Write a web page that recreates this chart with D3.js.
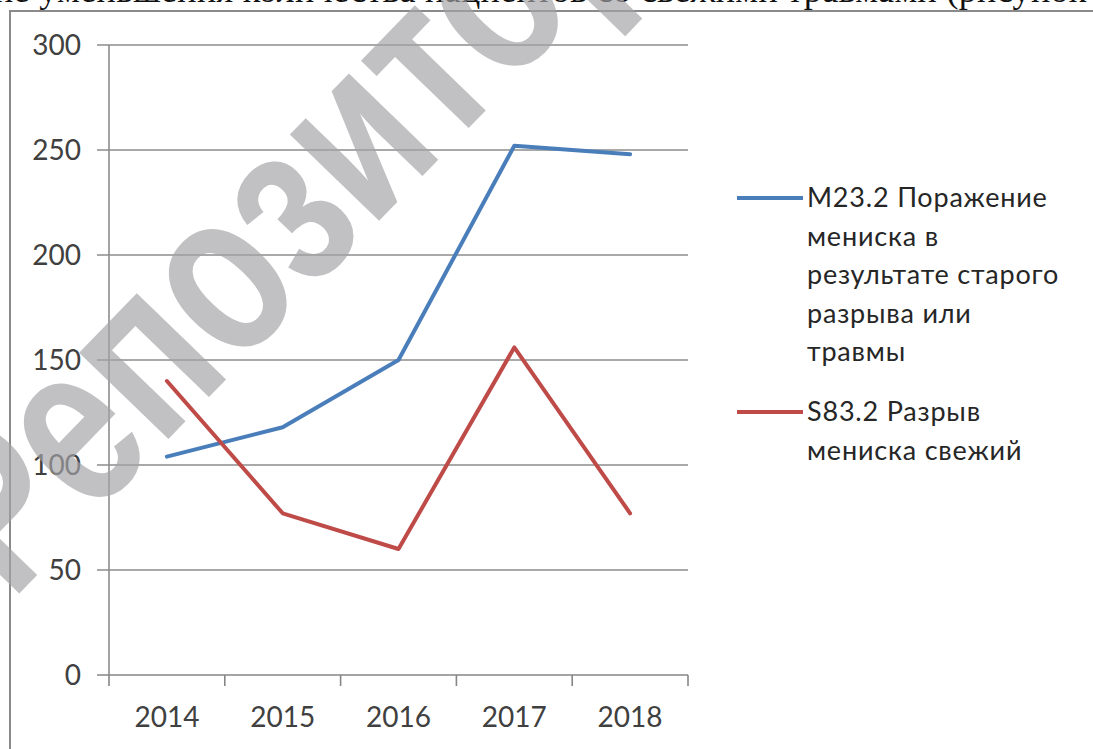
<!DOCTYPE html>
<html>
<head>
<meta charset="utf-8">
<script src="https://cdn.jsdelivr.net/npm/d3@7"></script>
<style>
  html, body { margin: 0; padding: 0; background: #fff; }
  svg { display: block; }
  .tick-label { font-family: Lato, "Open Sans", sans-serif; fill: #404040; }
  .legend-text { font-family: Lato, "Open Sans", sans-serif; fill: #262626; letter-spacing: 0.8px; }
</style>
</head>
<body>
<div id="chart"></div>
<script>
// Meniscus injuries by year, two ICD codes.
const years = ["2014", "2015", "2016", "2017", "2018"];
const m232 = [104, 118, 150, 252, 248];
const s832 = [140, 77, 60, 156, 77];
const yTicks = [0, 50, 100, 150, 200, 250, 300];
const seriesNames = ["M23.2", "S83.2"];
const legendLines = [
  ["M23.2 Поражение", "мениска в", "результате старого", "разрыва или", "травмы"],
  ["S83.2 Разрыв", "мениска свежий"]
];
const colors = ["#4a7ebb", "#be4b48"];

const W = 1093, H = 749;
const svg = d3.select("#chart").append("svg").attr("width", W).attr("height", H);

// cut-off line of the page text above the figure
svg.append("text")
  .attr("x", -6).attr("y", 2)
  .attr("font-family", "Liberation Serif, serif")
  .attr("font-size", 36).attr("fill", "#111")
  .attr("textLength", 1120)
  .text("ие уменьшения количества пациентов со свежими травмами (рисунок 4");

// chart frame
svg.append("rect")
  .attr("x", 10).attr("y", 11).attr("width", W + 20).attr("height", H + 20)
  .attr("fill", "#fff").attr("stroke", "#8a8a8a").attr("stroke-width", 2);

const x = d3.scaleBand().domain(years).range([109, 688]).padding(0);
const y = d3.scaleLinear().domain([0, 300]).range([675, 45]);

// gridlines + y ticks
svg.append("g").selectAll("line").data(yTicks).join("line")
  .attr("x1", 97).attr("x2", 688)
  .attr("y1", d => y(d)).attr("y2", d => y(d))
  .attr("stroke", d => d === 0 ? "#868686" : "#8c8c8c")
  .attr("stroke-width", 1.6);

svg.append("g").selectAll("text").data(yTicks).join("text")
  .attr("class", "tick-label")
  .attr("x", 81).attr("y", d => y(d) + 10)
  .attr("text-anchor", "end").attr("font-size", 28)
  .text(d => d);

// y axis line
svg.append("line")
  .attr("x1", 109).attr("x2", 109).attr("y1", y(300)).attr("y2", y(0))
  .attr("stroke", "#8c8c8c").attr("stroke-width", 1.6);

// x axis ticks at category boundaries
const bounds = years.map(d => x(d)).concat([x(years[years.length - 1]) + x.bandwidth()]);
svg.append("g").selectAll("line").data(bounds).join("line")
  .attr("x1", d => d).attr("x2", d => d)
  .attr("y1", y(0)).attr("y2", y(0) + 11)
  .attr("stroke", "#868686").attr("stroke-width", 1.6);

svg.append("g").selectAll("text").data(years).join("text")
  .attr("class", "tick-label")
  .attr("x", d => x(d) + x.bandwidth() / 2).attr("y", 727)
  .attr("text-anchor", "middle").attr("font-size", 28)
  .text(d => d);

// repository watermark (under the data lines, gridlines show through)
svg.append("text")
  .attr("transform", "translate(11,602) rotate(-46) scale(0.76,1)")
  .attr("font-family", "Liberation Sans, Arial, sans-serif")
  .attr("font-weight", "bold").attr("font-size", 235)
  .attr("fill", "#a4a4a6").attr("fill-opacity", 0.68)
  .text("Репозиторий");

// series lines
const line = d3.line()
  .x((d, i) => x(years[i]) + x.bandwidth() / 2)
  .y(d => y(d));

[m232, s832].forEach((vals, k) => {
  svg.append("path")
    .datum(vals)
    .attr("d", line)
    .attr("fill", "none")
    .attr("stroke", colors[k])
    .attr("stroke-width", 4)
    .attr("stroke-linejoin", "round")
    .attr("stroke-linecap", "round")
    .attr("aria-label", seriesNames[k]);
});

// legend
const legendTop = [198, 412];
const lineH = 38.5;
legendLines.forEach((lines, k) => {
  const g = svg.append("g");
  g.append("line")
    .attr("x1", 737).attr("x2", 803)
    .attr("y1", legendTop[k]).attr("y2", legendTop[k])
    .attr("stroke", colors[k]).attr("stroke-width", 4);
  g.selectAll("text").data(lines).join("text")
    .attr("class", "legend-text")
    .attr("x", 807).attr("y", (d, i) => legendTop[k] + 9 + i * lineH)
    .attr("font-size", 27)
    .text(d => d);
});
</script>
</body>
</html>
